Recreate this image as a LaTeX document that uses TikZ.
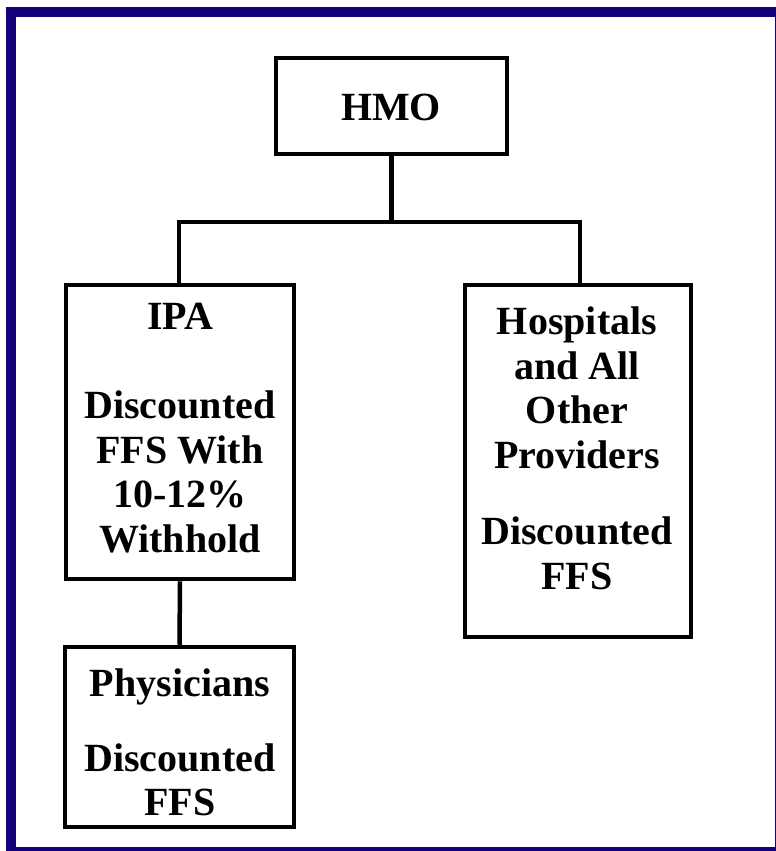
\documentclass[tikz,border=0pt]{standalone}
\usepackage{fontspec}
\setmainfont{Liberation Serif}
\definecolor{framenavy}{RGB}{20,0,122}
\begin{document}
\begin{tikzpicture}[x=1bp,y=-1bp,
  box/.style={draw=black,line width=4.5bp,rectangle,inner sep=0pt,fill=white},
  txt/.style={inner sep=0pt,align=center,anchor=north,font=\fontsize{40bp}{44.5bp}\selectfont\bfseries},
  link/.style={draw=black,line width=4.5bp}]
\useasboundingbox (0,0) rectangle (776,851);
\fill[framenavy] (6,7) rectangle (776,851);
\fill[white] (16,17) rectangle (775,847);
% boxes
\node[box,minimum width=231bp,minimum height=96bp] (hmo) at (391.5,106) {};
\node[box,minimum width=228bp,minimum height=294bp] (ipa) at (180,432) {};
\node[box,minimum width=226bp,minimum height=352bp] (hosp) at (578,461) {};
\node[box,minimum width=229bp,minimum height=180bp] (phys) at (179.5,737) {};
% texts
\node[txt] (hmot) at (391,94) {HMO};
\node[txt] (ipat) at (180,303) {IPA\\[44.5bp]Discounted\\FFS With\\10-12\%\\Withhold};
\node[txt] (hospt) at (577,307) {Hospitals\\and All\\Other\\Providers\\[32bp]Discounted\\FFS};
\node[txt] (physt) at (180,669) {Physicians\\[30bp]Discounted\\FFS};
% connectors
\coordinate (busL) at (179,222);
\coordinate (busR) at (580,222);
\draw[link] ([xshift=-2.25bp]busL) -- ([xshift=2.25bp]busR);
\draw[link] (hmo.south) -- (hmo.south |- busL);
\draw[link] (busL) -- (busL |- ipa.north);
\draw[link] (busR) -- (busR |- hosp.north);
\draw[link] (ipa.south) -- (phys.north);
\end{tikzpicture}
\end{document}
